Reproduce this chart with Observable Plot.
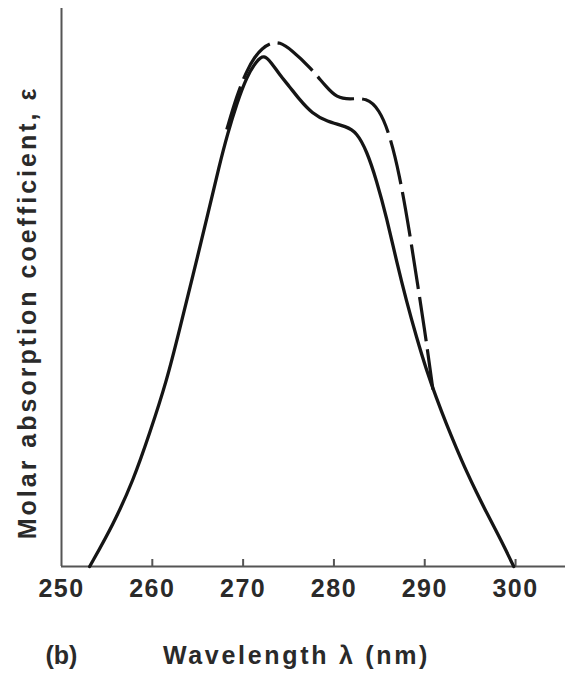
<!DOCTYPE html>
<html>
<head>
<meta charset="utf-8">
<script src="https://cdn.jsdelivr.net/npm/d3@7"></script>
<script src="https://cdn.jsdelivr.net/npm/@observablehq/plot@0.6"></script>
<style>
  html, body { margin: 0; padding: 0; background: #fff; }
  #chart svg { display: block; }
</style>
</head>
<body>
<div id="chart"></div>
<script>
// Wavelength (nm) and molar absorption coefficient (arbitrary units)
const solidWavelength = [253.1, 255.7, 257.9, 259.7, 261.6, 263.0, 264.5, 266.0, 267.4, 268.3, 269.3, 270.4, 271.5, 272.3, 273.1, 274.0, 275.1, 276.2, 277.6, 279.2, 281.4, 282.5, 283.6, 284.7, 285.8, 286.9, 288.0, 289.1, 290.2, 291.3, 292.4, 293.5, 294.6, 295.7, 296.8, 297.9, 298.9, 299.8];
const solidEpsilon    = [0, 42, 86, 133, 186, 237, 292, 348, 402, 433, 463, 490, 506, 512, 504, 492, 480, 467, 453, 445, 440, 434, 416, 386, 349, 305, 265, 229, 196, 168, 142, 118, 95, 74, 54, 35, 17, 0];

const dashedWavelength = [268.2, 269.3, 270.4, 271.3, 272.1, 272.9, 274.0, 275.4, 277.3, 279.2, 280.3, 281.7, 283.6, 285.0, 286.1, 287.2, 288.3, 289.2, 290.0, 290.5, 290.9];
const dashedEpsilon    = [437, 471, 496, 510, 518, 523, 525, 516, 500, 479, 469, 467, 469, 457, 433, 393, 336, 283, 236, 203, 177];

const tickValues = [260, 270, 280, 290, 300];
const tickLabels = ["250", "260", "270", "280", "290", "300"];
const labelValues = [250, 260, 270, 280, 290, 300];
const xLabel = "Wavelength λ (nm)";
const yLabel = "Molar absorption coefficient, ε";
const panelLabel = "(b)";

const solid = solidWavelength.map((w, i) => ({w, e: solidEpsilon[i]}));
const dashed = dashedWavelength.map((w, i) => ({w, e: dashedEpsilon[i]}));

const font = "'Liberation Sans', Arial, Helvetica, sans-serif";
const ink = "#151515";
const textInk = "#2a2a2a";

const chart = Plot.plot({
  width: 571,
  height: 678,
  marginTop: 8,
  marginBottom: 112,
  marginLeft: 61,
  marginRight: 6,
  style: {fontFamily: font, background: "#fff", overflow: "visible"},
  x: {domain: [250, 305.5]},
  y: {domain: [0, 558], axis: null},
  marks: [
    // axis lines
    Plot.ruleX([250], {stroke: "#555", strokeWidth: 2}),
    Plot.ruleY([0], {stroke: "#555", strokeWidth: 2.2}),
    // upward ticks
    Plot.ruleX(tickValues, {y1: 0, y2: 7, stroke: "#555", strokeWidth: 2}),
    // tick labels
    Plot.axisX(labelValues, {
      tickSize: 0, tickPadding: 13, label: null,
      tickFormat: (d, i) => tickLabels[i],
      fontSize: 25, fontWeight: "bold", fill: textInk
    }),
    // curves
    Plot.line(dashed, {x: "w", y: "e", curve: "basis", stroke: ink, strokeWidth: 3.2, strokeDasharray: "45,8", strokeLinecap: "butt"}),
    Plot.line(solid, {x: "w", y: "e", curve: "basis", stroke: ink, strokeWidth: 3.3}),
    // axis titles
    Plot.text([xLabel], {frameAnchor: "bottom", textAnchor: "middle", dx: -17, dy: 97, fontSize: 25, fontWeight: "bold", fill: textInk}),
    Plot.text([panelLabel], {frameAnchor: "bottom-left", textAnchor: "start", dx: -16, dy: 97, fontSize: 25, fontWeight: "bold", fill: textInk}),
    Plot.text([yLabel], {frameAnchor: "left", textAnchor: "middle", rotate: -90, dx: -34, dy: 25, fontSize: 25, fontWeight: "bold", fill: textInk})
  ]
});

// wide tracking of the printed lettering
d3.select(chart).selectAll("text").each(function () {
  const t = this.textContent;
  if (t === xLabel) this.setAttribute("letter-spacing", "2.7px");
  else if (t === yLabel) this.setAttribute("letter-spacing", "3px");
  else if (tickLabels.includes(t)) this.setAttribute("letter-spacing", "1.5px");
});

document.getElementById("chart").appendChild(chart);
</script>
</body>
</html>
